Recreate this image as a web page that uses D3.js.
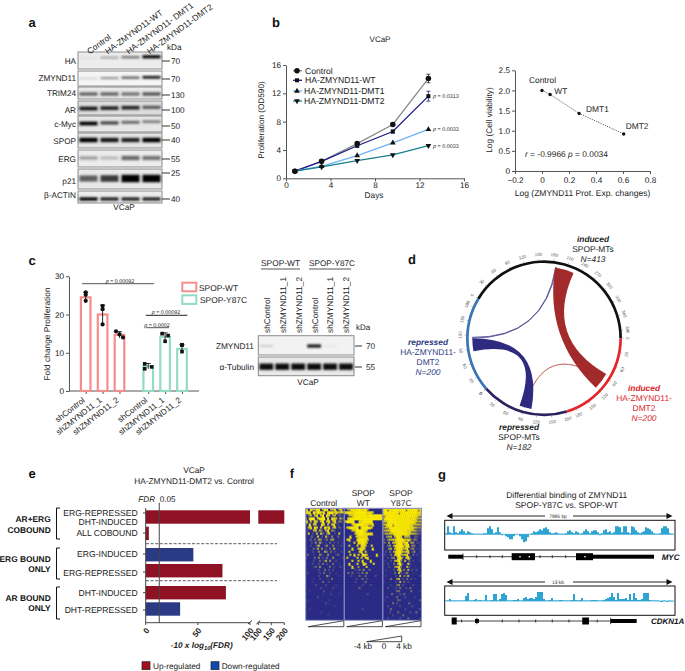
<!DOCTYPE html>
<html>

<head>
  <title>ZMYND11 figure</title>
  <script src="https://cdn.jsdelivr.net/npm/d3@7/dist/d3.min.js"></script>
  <style>
    body { margin: 0; background: white; }
    svg { display: block; }
    text { font-family: "Liberation Sans", Arial, sans-serif; fill: #222; text-rendering: geometricPrecision; }
    .axis path, .axis line { fill: none; stroke: #555; stroke-width: 1; }
    .axis text { font-size: 8.2px; fill: #222; }
  </style>
</head>

<body>
  <svg id="chart" width="685" height="671"></svg>

  <script>
    // panel a: western blot
    var lanesA = ['Control', 'HA-ZMYND11-WT', 'HA-ZMYND11- DMT1', 'HA-ZMYND11-DMT2'];
    var blotNamesA = ['HA', 'ZMYND11', 'TRIM24', 'AR', 'c-Myc', 'SPOP', 'ERG', 'p21', 'β-ACTIN'];
    var blotKdaA = ['70', '70', '130', '100', '50', '40', '55', '25', '40'];
    var blotBandsA = [
      [0.05, 0.3, 0.5, 1],
      [0.15, 0.4, 0.6, 0.9],
      [0.55, 0.55, 0.5, 0.6],
      [0.9, 0.85, 0.85, 0.6],
      [1, 0.7, 0.55, 0.45],
      [1, 0.9, 0.85, 1],
      [0.3, 0.2, 0.55, 0.5],
      [0.6, 0.75, 1, 1],
      [1, 0.9, 0.9, 0.9]
    ];

    // panel b: proliferation
    var days = [0.8, 3.2, 6.4, 9.6, 12.8];
    var growthNames = ['Control', 'HA-ZMYND11-WT', 'HA-ZMYND11-DMT1', 'HA-ZMYND11-DMT2'];
    var growthControl = [1, 2.4, 4.9, 7.6, 14.1];
    var growthWT = [1, 2.4, 4.6, 6.6, 11.6];
    var growthDMT1 = [1, 1.7, 3.2, 5.0, 6.9];
    var growthDMT2 = [1, 1.6, 2.5, 3.3, 4.6];
    var growthErrControl = [0.1, 0.2, 0.2, 0.2, 0.6];
    var growthErrWT = [0.1, 0.2, 0.2, 0.2, 0.7];
    var growthP = [null, '0.0313', '0.0033', '0.0033'];

    // panel b: correlation
    var corrNames = ['Control', 'WT', 'DMT1', 'DMT2'];
    var corrX = [0, 0.06, 0.275, 0.605];
    var corrY = [2.0, 1.9, 1.43, 0.92];

    // panel c: fold change bars
    var foldNames = ['shControl', 'shZMYND11_1', 'shZMYND11_2', 'shControl', 'shZMYND11_1', 'shZMYND11_2'];
    var foldSlots = [0, 1, 2, 3.7, 4.7, 5.7];
    var foldMeans = [24.5, 20, 14.7, 6.5, 14.2, 11];
    var foldDots = [
      [25.8, 25.2, 23.6],
      [22.2, 21.4, 17.4],
      [15.6, 14.8, 14],
      [7.1, 6.3, 5.8],
      [15, 14.5, 13],
      [12.1, 12, 10.3]
    ];
    var foldErr = [1.3, 2.5, 0.8, 0.7, 1, 1.1];
    var lanesC = ['shControl', 'shZMYND11_1', 'shZMYND11_2', 'shControl', 'shZMYND11_1', 'shZMYND11_2'];
    var bandsZmyndC = [0.15, 0, 0, 0.9, 0.05, 0];
    var bandsTubulinC = [0.95, 0.95, 0.95, 0.95, 0.95, 0.95];

    // panel d: circular plot, gene counts
    var sectorNames = ['induced SPOP-MTs', 'induced DMT2', 'repressed SPOP-MTs', 'repressed DMT2'];
    var sectorTotals = [406, 200, 182, 200];
    var sectorTickMax = [390, 180, 180, 180];
    var links = [
      { from: [0, 186, 188], to: [3, 114, 116], kind: 'thinNavy' },
      { from: [2, 90, 91], to: [1, 96, 97], kind: 'thinRed' },
      { from: [3, 85, 114], to: [2, 75, 102], kind: 'navy' },
      { from: [0, 185, 227], to: [1, 82, 120], kind: 'red' }
    ];

    // panel e: enrichment
    var enrichNames = ['ALL COBOUND', 'ERG-INDUCED', 'ERG-REPRESSED', 'DHT-INDUCED', 'DHT-REPRESSED'];
    var enrichValues = [3, 45.7, 73.6, 76.9, 33];
    var enrichUp = [true, false, true, true, false];
    var enrichBrokenValue = 200;
    var enrichFdr = 13;

    // panel f: heatmap density, 0 navy to 9 yellow
    var heatNames = ['Control', 'SPOP WT', 'SPOP Y87C'];
    var heatControl = [
      '8087689079806780680', '9880979878089978677', '0370680790870560320', '7089907899080887063',
      '8060870690780680430', '3090760087060780200', '0680870708680570310', '0200570630580430010',
      '0702060730470020700', '0003007020620400300', '0030305402304500100', '1002040520103020201',
      '0020036002400401020', '2000305040203050100', '0002004005303020020', '0300100420040001300',
      '1000304020300400002', '0000200302504002000', '0002002030200300100', '0000130400003010020',
      '0000002003020200000', '0200000203002001000', '0000002000420000100', '0000100200010300000',
      '0001000030020000000', '0000020000200001000', '0000000200000200000', '0010000002000000000',
      '0000000010002000100', '0000002000000000000', '0100000000010000000', '0000000000200000000',
      '0000000000000010000', '0010000000000000000', '0000000100000000000', '0000000000010000000',
      '0000000000000000000'
    ];
    var heatWT = [
      '0478989988960000000', '7899899999988870000', '0067899999989999998', '0089999999999999999',
      '7999900889999900000', '0000789999887780000', '0789989089998700000', '0000679999870000000',
      '0000078998888800000', '0008007888880000000', '0780008999870000000', '0000070889870000000',
      '0060007088700700000', '0000800788600080000', '0070000780700000000', '0007080708870000800',
      '0700007060780000000', '0000700708000800000', '0080007008700070000', '0000800400070000000',
      '0000020304003000000', '0030300203040000000', '0002000300300002000', '0000002003020000000',
      '0000020000300000000', '0000000002000200000', '0000000300000000000', '0000000000000000000',
      '0000000000020000000', '0000000000000000000', '0000000000000000000', '0000000000000000000',
      '0000000000000000000', '0000000002000000000', '0000000000000000000', '0000000000000000000',
      '0000000000000000000'
    ];
    var heatY87C = [
      '9979899999979999978', '8999999979999999988', '7899999999999999877', '6899999999999989866',
      '7789999999999998756', '5689979999999987665', '4678999999999887544', '4577899999998876533',
      '3556789999998765432', '2045607998076500320', '3045678999878604300', '2305067899789054021',
      '1034068999689043002', '2004507898678034011', '0203058997578024002', '0200307896578003020',
      '0020340895068300001', '0100205794060302001', '1020030793007200000', '0002004683006200100',
      '0100020682305020200', '1000003072024001000', '0100002060325000002', '0000300460203020100',
      '1000002050302000000', '0000100340200002000', '0020002030020300000', '1000000330000030001',
      '0000300020300000000', '0020000300020000100', '1000000320000000003', '0000030200000300000',
      '0020000020000020000', '0000300000020000002', '0002000300000200300', '0000020000300000000',
      '0020000020003000002'
    ];

    // panel g: binding tracks
    var trackMyc = [1, 8, 2, 1, 8, 2, 1, 3, 5, 3, 1, 3, 2, 1, 0.5, 0.5, 0.5, 0.5, 0.5, 1, 1, 6, 8, 5, 1, 2, 7, 2, -1, 0,
      -2, -3, -5, -5, -2, 0, 0, -2, -5, -8, -7, -3, 0, 1, 3, 2, 3, 5, 4, 6, 7, 5, 2, 1, 1, 2, 1, 0.5, 0.5, 0.5,
      1, 3, 4, 2, 1, 3, 2, 0.5, 1, 3, 5, 3, 1, 3, 4, 4, 2, -1, 1, 4, 5, 2, 3, 1, 2, 8, 8, 7, 2, 8,
      8, 2, 1, 8, 7, 4, 2, 1, 2, 3, 7, 6, 5, 3, 1, 0.5, 0.5, 1, 6, 8, 8, 6, 1, 0.5, 0.5];
    var trackCdkn = [0.5, 0.5, 2, 0.5, 0.5, 0.5, 0.5, 0.5, 0.5, 0.5, 5, 8, 0.5, 0.5, 1, 2, 0.5, 1, 0.5, 0.5, 6, 0.5, 0.5, 1, 7, 7, 0.5, 2, 7, 8,
      6, 0.5, 0.5, 0.5, 1, 1, 2, 0.5, 0.5, 3, 4, 2, 3, 3, 2, 4, 9, 9, 9, 2, 0.5, 0.5, 1, 3, 0.5, 0.5, 0.5, 1, 1, 0.5,
      0.5, 0.5, 0.5, 1, 7, 1, 0.5, 1, 3, 0.5, 0.5, 0.5, 0.5, 1, 1, 1, 0.5, 0.5, 0.5, 1, 2, 3, 4, 8, 4, 1, 8, 2, 2, 2,
      3, 1, 7, 1, 8, 3, 1, 1, 2, 8, 8, 8, 1, 0.5, 0.5, 0.5, 0.5, -0.5, -1, 0.5, -0.5, -1, 0.5, -0.5, 0.5];
    var mycExons = [[2318, 3128], [4554, 5145]];
    var mycUtrs = [[115, 626], [5145, 7265]];
    var mycIntronMarks = [1102, 1564, 1992, 3302, 3730, 4196];
    var mycDots = [2607, 2930, 4866];
    var mycStarts = [626];
    var cdknExons = [[379, 661], [7757, 8136]];
    var cdknUtrs = [[1695, 1921], [9362, 10831]];
    var cdknIntronMarks = [944, 3238, 4181, 5125, 6063, 7006, 8605];
    var cdknStarts = [1800, 9362];

    var svg = d3.select('#chart');

    // text helper, parts may be strings or {t, italic, lower}
    function label(x, y, parts, o) {
      o = o || {};
      var t = svg.append('text')
        .attr('x', x)
        .attr('y', y)
        .attr('dy', '0.35em')
        .attr('text-anchor', o.anchor || 'start')
        .style('font-size', (o.size || 8) + 'px')
        .style('font-weight', o.bold ? 'bold' : 'normal')
        .style('font-style', o.italic ? 'italic' : 'normal')
        .style('fill', o.fill || '#222');
      if (o.rotate) t.attr('transform', 'rotate(' + o.rotate + ' ' + x + ' ' + y + ')');
      if (typeof parts === 'string') parts = [parts];
      var wasLow = false;
      parts.forEach(function (p) {
        var s = t.append('tspan').text(typeof p === 'string' ? p : p.t);
        if (wasLow) s.attr('dy', -2);
        wasLow = false;
        if (p.italic) s.style('font-style', 'italic');
        if (p.lower) {
          s.style('font-size', '0.7em').attr('dy', 2);
          wasLow = true;
        }
      });
      return t;
    }

    var defs = svg.append('defs');
    defs.append('filter').attr('id', 'soft').attr('x', '-20%').attr('y', '-50%').attr('width', '140%').attr('height', '200%')
      .append('feGaussianBlur').attr('stdDeviation', 0.8);
    defs.append('filter').attr('id', 'heatSoft').attr('x', '0').attr('y', '0').attr('width', '100%').attr('height', '100%')
      .append('feGaussianBlur').attr('stdDeviation', 0.4);

    [['a', 32, 22], ['b', 276, 22], ['c', 32, 260], ['d', 412, 259], ['e', 32, 473], ['f', 292, 473], ['g', 442, 474]]
      .forEach(function (d) { label(d[1], d[2], d[0], { size: 13, bold: true, anchor: 'middle', fill: '#111' }); });

    // blot drawing shared by a and c
    function blotRow(xScale, top, bottom, bandY, bands, thick, tilt, bg) {
      svg.append('rect')
        .attr('x', xScale.range()[0]).attr('y', top)
        .attr('width', xScale.range()[1] - xScale.range()[0]).attr('height', bottom - top)
        .attr('fill', bg).attr('stroke', '#8c8c8c').attr('stroke-width', 1);
      var shade = d3.scaleLinear().domain([0, 1]).range([0, 1]);
      svg.append('g').attr('filter', 'url(#soft)')
        .selectAll('rect').data(bands).enter().append('rect')
        .attr('x', function (d, i) { return xScale(i) + xScale.bandwidth() * 0.07; })
        .attr('width', xScale.bandwidth() * 0.86)
        .attr('y', function (d, i) { return bandY - tilt * i - thick * (0.55 + 0.45 * d) / 2; })
        .attr('height', function (d) { return thick * (0.55 + 0.45 * d); })
        .attr('fill', '#050505')
        .attr('opacity', function (d) { return shade(d); });
    }

    // panel a
    var rowsA = [[52, 69, 58, 3.2, 0.4], [71, 86, 78.5, 3, 0.4], [87, 99, 94, 4.5, 0], [101, 115, 108.5, 4, 0.4], [116, 132, 123.5, 3.8, 0.6],
      [133, 148, 140, 4.6, 0], [150, 167, 158, 5.5, 0], [169, 189, 178.5, 7.5, 0], [191, 203, 199, 3.4, 0]];
    var labelYA = [61, 78, 93, 110, 124, 141, 159, 181, 195];
    var kdaYA = [61, 79, 95, 110, 126, 140, 159, 173, 199];
    var bgA = ['#ececec', '#f5f5f5', '#e8e8e8', '#dcdcdc', '#e6e6e6', '#e4e4e4', '#ececec', '#e8e8e8', '#ececec'];
    var laneA = d3.scaleBand().domain(d3.range(4)).range([78, 162]);
    blotBandsA.forEach(function (b, i) {
      var r = rowsA[i];
      blotRow(laneA, r[0], r[1], r[2], b, r[3], r[4], bgA[i]);
      label(76, labelYA[i], blotNamesA[i], { anchor: 'end', size: 8.2 });
      svg.append('line').attr('x1', 162).attr('x2', 170).attr('y1', kdaYA[i]).attr('y2', kdaYA[i]).attr('stroke', '#333');
      label(171, kdaYA[i], blotKdaA[i], { size: 8.2 });
    });
    lanesA.forEach(function (d, i) {
      label(laneA(i) + 11 - (i === 0 ? 1 : 4), 52, d, { size: 8.4, rotate: -36 });
    });
    label(167, 47, 'kDa', { size: 8.2 });
    label(124, 207, 'VCaP', { size: 8.2, anchor: 'middle' });

    // panel b left
    label(380, 39, 'VCaP', { size: 8, anchor: 'middle' });
    var xGrow = d3.scaleLinear().domain([0, 16]).range([286, 464]);
    var yGrow = d3.scaleLinear().domain([0, 16]).range([178.3, 65]);
    svg.append('g').attr('class', 'axis').attr('transform', 'translate(0,178.3)')
      .call(d3.axisBottom(xGrow).tickValues([0, 4, 8, 12, 16]).tickSize(3).tickSizeOuter(0).tickPadding(1));
    svg.append('g').attr('class', 'axis').attr('transform', 'translate(286,0)')
      .call(d3.axisLeft(yGrow).tickValues([0, 4, 8, 12, 16]).tickSize(3).tickSizeOuter(0).tickPadding(2));
    label(374, 195, 'Days', { size: 8.3, anchor: 'middle' });
    label(261, 120, 'Proliferation (OD590)', { size: 8.2, anchor: 'middle', rotate: -90 });

    var growthSeries = [growthControl, growthWT, growthDMT1, growthDMT2];
    var growthColors = ['#8a8a8a', '#1c1c8c', '#6fb2f2', '#16808a'];
    var growthSymbols = [d3.symbolCircle, d3.symbolSquare, d3.symbolTriangle, d3.symbolTriangle];
    var growthSizes = [24, 16, 14, 14];
    var growthTurn = [0, 0, 0, 180];
    var growLine = d3.line().x(function (d, i) { return xGrow(days[i]); }).y(function (d) { return yGrow(d); });
    growthSeries.forEach(function (s, k) {
      svg.append('path').datum(s).attr('d', growLine).attr('fill', 'none')
        .attr('stroke', growthColors[k]).attr('stroke-width', 1.3);
    });
    [[growthControl, growthErrControl, '#222'], [growthWT, growthErrWT, '#1c1c8c']].forEach(function (e) {
      days.forEach(function (d, i) {
        svg.append('path')
          .attr('d', 'M' + (xGrow(d) - 2) + ',' + yGrow(e[0][i] + e[1][i]) + 'h4M' + xGrow(d) + ',' + yGrow(e[0][i] + e[1][i]) +
            'V' + yGrow(e[0][i] - e[1][i]) + 'M' + (xGrow(d) - 2) + ',' + yGrow(e[0][i] - e[1][i]) + 'h4')
          .attr('stroke', e[2]).attr('stroke-width', 0.8).attr('fill', 'none');
      });
    });
    growthSeries.forEach(function (s, k) {
      svg.append('g').selectAll('path').data(s).enter().append('path')
        .attr('d', d3.symbol().type(growthSymbols[k]).size(growthSizes[k]))
        .attr('transform', function (d, i) {
          return 'translate(' + xGrow(days[i]) + ',' + yGrow(d) + ') rotate(' + growthTurn[k] + ')';
        })
        .attr('fill', '#111');
    });
    var legendY = [70.7, 80.3, 91, 101];
    var legendX = [305, 305, 304, 304];
    growthNames.forEach(function (n, k) {
      svg.append('line').attr('x1', 293).attr('x2', 302).attr('y1', legendY[k]).attr('y2', legendY[k])
        .attr('stroke', growthColors[k]).attr('stroke-width', 1.3);
      svg.append('path').attr('d', d3.symbol().type(growthSymbols[k]).size(growthSizes[k]))
        .attr('transform', 'translate(297,' + legendY[k] + ') rotate(' + growthTurn[k] + ')').attr('fill', '#111');
      label(legendX[k], legendY[k], n, { size: 8.6 });
      if (growthP[k]) {
        label(433, yGrow(growthSeries[k][4]), [{ t: 'p', italic: true }, ' = ' + growthP[k]], { size: 5.4 });
      }
    });

    // panel b right
    var xCorr = d3.scaleLinear().domain([-0.2, 0.8]).range([515, 650]);
    var yCorr = d3.scaleLinear().domain([0, 2.5]).range([171, 70.3]);
    var oneDec = function (d) { return d === 0 ? '0' : d3.format('.1f')(d); };
    svg.append('g').attr('class', 'axis').attr('transform', 'translate(0,171)')
      .call(d3.axisBottom(xCorr).tickValues([-0.2, 0, 0.2, 0.4, 0.6, 0.8]).tickFormat(oneDec).tickSize(3).tickSizeOuter(0).tickPadding(3));
    svg.append('g').attr('class', 'axis').attr('transform', 'translate(515,0)')
      .call(d3.axisLeft(yCorr).tickValues([0, 0.5, 1, 1.5, 2, 2.5]).tickFormat(oneDec).tickSize(3).tickSizeOuter(0).tickPadding(2));
    label(582.5, 193.3, 'Log (ZMYND11 Prot. Exp. changes)', { size: 8.5, anchor: 'middle' });
    label(489, 120, 'Log (Cell viability)', { size: 8.3, anchor: 'middle', rotate: -90 });
    svg.append('path').datum(corrY)
      .attr('d', d3.line().x(function (d, i) { return xCorr(corrX[i]); }).y(function (d) { return yCorr(d); }))
      .attr('fill', 'none').attr('stroke', '#333').attr('stroke-width', 0.8).attr('stroke-dasharray', '1.2 1.2');
    svg.append('g').selectAll('circle').data(corrY).enter().append('circle')
      .attr('cx', function (d, i) { return xCorr(corrX[i]); })
      .attr('cy', function (d) { return yCorr(d); })
      .attr('r', 1.7).attr('fill', '#111');
    var corrLabelX = [529, 554.3, 586, 625.7];
    var corrLabelY = [80, 91, 108.7, 126];
    corrNames.forEach(function (n, i) {
      label(corrLabelX[i], corrLabelY[i], n, { size: 8.4 });
    });
    label(525, 154, [{ t: 'r', italic: true }, ' = -0.9966   ', { t: 'p', italic: true }, ' = 0.0034'], { size: 8.4 });

    // panel c
    var xFold = d3.scaleLinear().domain([0, 5.7]).range([85.7, 182]);
    var yFold = d3.scaleLinear().domain([0, 30]).range([391, 276.3]);
    svg.append('g').attr('class', 'axis').attr('transform', 'translate(69,0)')
      .call(d3.axisLeft(yFold).tickValues([0, 10, 20, 30]).tickSize(3).tickSizeOuter(0).tickPadding(2));
    var foldAxis = svg.append('g').attr('class', 'axis').attr('transform', 'translate(0,391)')
      .call(d3.axisBottom(xFold).tickValues(foldSlots).tickFormat('').tickSize(3).tickSizeOuter(0));
    foldAxis.select('.domain').attr('d', 'M69,0H199');
    foldNames.forEach(function (n, i) {
      svg.append('text').attr('transform', 'translate(' + (xFold(foldSlots[i]) - 2) + ',399) rotate(-38)')
        .attr('text-anchor', 'end').attr('dy', '0.35em').style('font-size', '8.2px').text(n);
    });
    label(47, 334, 'Fold change Proliferation', { size: 8.4, anchor: 'middle', rotate: -90 });
    var foldColor = function (i) { return i < 3 ? '#f48e8e' : '#93dcc0'; };
    svg.append('g').selectAll('rect').data(foldMeans).enter().append('rect')
      .attr('x', function (d, i) { return xFold(foldSlots[i]) - 4.8; })
      .attr('width', 9.6)
      .attr('y', function (d) { return yFold(d); })
      .attr('height', function (d) { return yFold(0) - yFold(d); })
      .attr('fill', 'white')
      .attr('stroke', function (d, i) { return foldColor(i); })
      .attr('stroke-width', 2.2);
    var dotShift = [[0, 0, 0], [0, 0, 0], [-3.5, 0, 3.5], [-3.5, 3.5, -3.5], [-3, 3, 0], [0, 0, 0]];
    foldDots.forEach(function (vals, i) {
      var cx = xFold(foldSlots[i]);
      svg.append('path')
        .attr('d', 'M' + (cx - 2.5) + ',' + yFold(foldMeans[i] + foldErr[i]) + 'h5M' + cx + ',' + yFold(foldMeans[i] + foldErr[i]) +
          'V' + yFold(foldMeans[i] - foldErr[i]))
        .attr('stroke', '#111').attr('stroke-width', 0.9).attr('fill', 'none');
      svg.append('g').selectAll('path').data(vals).enter().append('path')
        .attr('d', d3.symbol().type(i < 3 ? d3.symbolCircle : d3.symbolSquare).size(i < 3 ? 14 : 13))
        .attr('transform', function (d, j) { return 'translate(' + (cx + dotShift[i][j]) + ',' + yFold(d) + ')'; })
        .attr('fill', '#111');
    });
    [[82, 154, 283.7, 120, '#555'], [145.7, 187.3, 315.3, 166, '#222'], [145.7, 169, 327.7, 157, '#555']].forEach(function (d, i) {
      svg.append('line').attr('x1', d[0]).attr('x2', d[1]).attr('y1', d[2]).attr('y2', d[2]).attr('stroke', d[4]);
      label(d[3], d[2] - 3, [{ t: 'p', italic: true }, i === 2 ? ' = 0.0002' : ' = 0.00092'], { size: 5.4, anchor: 'middle' });
    });
    [[282.7, '#f48e8e', 'SPOP-WT', 199], [295.3, '#93dcc0', 'SPOP-Y87C', 200]].forEach(function (d) {
      svg.append('rect').attr('x', 182.3).attr('y', d[0]).attr('width', 14).attr('height', 8.6)
        .attr('fill', 'white').attr('stroke', d[1]).attr('stroke-width', 2);
      label(d[3], d[0] + 5, d[2], { size: 8.4 });
    });

    // panel c blot
    var laneC = d3.scaleBand().domain(d3.range(6)).range([258.3, 354]);
    blotRow(laneC, 335.7, 355, 346, bandsZmyndC, 3.4, 0, '#f2f2f2');
    blotRow(laneC, 357, 375.7, 366.7, bandsTubulinC, 6.5, 0, '#e8e8e8');
    label(254, 346, 'ZMYND11', { size: 8.3, anchor: 'end' });
    label(254, 367, 'α-Tubulin', { size: 8.3, anchor: 'end' });
    svg.append('line').attr('x1', 355).attr('x2', 362).attr('y1', 346).attr('y2', 346).attr('stroke', '#333');
    svg.append('line').attr('x1', 355).attr('x2', 362).attr('y1', 367).attr('y2', 367).attr('stroke', '#333');
    label(366, 346, '70', { size: 8.2 });
    label(366, 367, '55', { size: 8.2 });
    label(356, 327, 'kDa', { size: 8 });
    label(308, 382, 'VCaP', { size: 8.2, anchor: 'middle' });
    lanesC.forEach(function (n, i) {
      label(laneC(i) + laneC.bandwidth() / 2 + 0.5, 333, n, { size: 8.3, rotate: -90 });
    });
    svg.append('line').attr('x1', 261).attr('x2', 300).attr('y1', 269).attr('y2', 269).attr('stroke', '#555');
    svg.append('line').attr('x1', 309).attr('x2', 351).attr('y1', 269).attr('y2', 269).attr('stroke', '#555');
    label(280.5, 263, 'SPOP-WT', { size: 8.4, anchor: 'middle' });
    label(332, 263, 'SPOP-Y87C', { size: 8.2, anchor: 'middle' });

    // panel d
    var cxD = 544, cyD = 338.3;
    var sectorStart = [-58.9, 90, 162.8, 229];
    var sectorEnd = [90, 162.8, 229, 301.1];
    var sectorColors = ['#101010', '#e4252b', '#29235f', '#3b74b2'];
    var sectorScales = sectorTotals.map(function (t, i) {
      return d3.scaleLinear().domain([0, t]).range([sectorStart[i], sectorEnd[i]].map(function (a) { return a * Math.PI / 180; }));
    });
    var chord = svg.append('g').attr('transform', 'translate(' + cxD + ',' + cyD + ')');
    var arcD = d3.arc().innerRadius(75.3).outerRadius(78);
    sectorNames.forEach(function (n, i) {
      chord.append('path').attr('fill', sectorColors[i])
        .attr('d', arcD({ startAngle: sectorStart[i] * Math.PI / 180, endAngle: sectorEnd[i] * Math.PI / 180 }));
      d3.range(0, sectorTickMax[i] + 1, 30).forEach(function (v) {
        var a = i === 2 ? sectorScales[2](182 - v) : sectorScales[i](v);
        var deg = a * 180 / Math.PI;
        var flip = deg > 90 && deg < 270;
        chord.append('line').attr('x1', 0).attr('x2', 0).attr('y1', -78).attr('y2', -79.5)
          .attr('stroke', '#666').attr('stroke-width', 0.4).attr('transform', 'rotate(' + deg + ')');
        chord.append('text')
          .attr('transform', 'rotate(' + deg + ') translate(0,-84)' + (flip ? ' rotate(180)' : ''))
          .attr('text-anchor', 'middle').attr('dy', '0.35em')
          .style('font-size', '4.4px').style('fill', '#555').text(v);
      });
    });
    var ribbon = d3.ribbon().radius(71.7);
    var linkStyle = {
      thinNavy: ['none', '#2e2a80', 0.7],
      thinRed: ['none', '#c0504d', 0.6],
      navy: ['#2e2a80', 'none', 0],
      red: ['#a32a2a', 'none', 0]
    };
    function end(e) {
      var s = sectorScales[e[0]];
      return { startAngle: s(e[1]), endAngle: s(e[2]) };
    }
    links.forEach(function (l) {
      chord.append('path').attr('d', ribbon({ source: end(l.from), target: end(l.to) }))
        .attr('fill', linkStyle[l.kind][0])
        .attr('stroke', linkStyle[l.kind][1])
        .attr('stroke-width', linkStyle[l.kind][2]);
    });
    var inkNavy = '#2b3a80', inkRed = '#d8232a';
    label(593, 238.7, 'induced', { size: 8.4, bold: true, italic: true, anchor: 'middle' });
    label(593, 249, 'SPOP-MTs', { size: 8.4, anchor: 'middle' });
    label(593, 259, 'N=413', { size: 8.4, italic: true, anchor: 'middle' });
    label(428, 342, 'repressed', { size: 8.4, bold: true, italic: true, anchor: 'middle', fill: inkNavy });
    label(428, 352, 'HA-ZMYND11-', { size: 8.4, anchor: 'middle', fill: inkNavy });
    label(428, 362, 'DMT2', { size: 8.4, anchor: 'middle', fill: inkNavy });
    label(428, 372, 'N=200', { size: 8.4, italic: true, anchor: 'middle', fill: inkNavy });
    label(644, 388, 'induced', { size: 8.4, bold: true, italic: true, anchor: 'middle', fill: inkRed });
    label(644, 398, 'HA-ZMYND11-', { size: 8.4, anchor: 'middle', fill: inkRed });
    label(644, 408, 'DMT2', { size: 8.4, anchor: 'middle', fill: inkRed });
    label(644, 418, 'N=200', { size: 8.4, italic: true, anchor: 'middle', fill: inkRed });
    label(519, 427, 'repressed', { size: 8.4, bold: true, italic: true, anchor: 'middle' });
    label(519, 437, 'SPOP-MTs', { size: 8.4, anchor: 'middle' });
    label(519, 447, 'N=182', { size: 8.4, italic: true, anchor: 'middle' });

    // panel e
    var xLow = d3.scaleLinear().domain([0, 100]).range([145.7, 250]);
    var xHigh = d3.scaleLinear().domain([100, 200]).range([258.3, 284.3]);
    var upRed = '#8f1224', downBlue = '#2b3a85';
    var enrichTop = [526.7, 548, 564, 586, 602.3];
    var enrichH = 13.4;
    svg.append('g').selectAll('rect').data(enrichValues).enter().append('rect')
      .attr('x', xLow(0))
      .attr('y', function (d, i) { return enrichTop[i]; })
      .attr('width', function (d) { return xLow(d) - xLow(0); })
      .attr('height', enrichH)
      .attr('fill', function (d, i) { return enrichUp[i] ? upRed : downBlue; });
    svg.append('rect').attr('x', xLow(0)).attr('y', 510.3).attr('width', xLow(100) - xLow(0)).attr('height', enrichH).attr('fill', upRed);
    svg.append('rect').attr('x', xHigh(100)).attr('y', 510.3).attr('width', xHigh(enrichBrokenValue) - xHigh(100)).attr('height', enrichH).attr('fill', upRed);
    svg.append('line').attr('x1', xLow(0)).attr('x2', xLow(0)).attr('y1', 508).attr('y2', 622.7).attr('stroke', '#444');
    svg.append('line').attr('x1', xLow(enrichFdr)).attr('x2', xLow(enrichFdr)).attr('y1', 502.7).attr('y2', 622.7).attr('stroke', '#444');
    svg.append('line').attr('x1', xLow(0)).attr('x2', xLow(100)).attr('y1', 622.7).attr('y2', 622.7).attr('stroke', '#444');
    svg.append('line').attr('x1', xHigh(100)).attr('x2', xHigh(200)).attr('y1', 622.7).attr('y2', 622.7).attr('stroke', '#444');
    [543.7, 580.7].forEach(function (y) {
      svg.append('line').attr('x1', 146).attr('x2', 277).attr('y1', y).attr('y2', y)
        .attr('stroke', '#333').attr('stroke-dasharray', '3 1.6').attr('stroke-width', 0.8);
    });
    [[xLow, 0], [xLow, 50], [xLow, 100], [xHigh, 100], [xHigh, 150], [xHigh, 200]].forEach(function (d) {
      var px = d[0](d[1]);
      svg.append('line').attr('x1', px).attr('x2', px).attr('y1', 622.7).attr('y2', 625).attr('stroke', '#444');
      svg.append('text').attr('transform', 'translate(' + (px + 2) + ',629) rotate(-50)')
        .attr('text-anchor', 'end').attr('dy', '0.35em')
        .style('font-size', '8.2px').style('font-weight', 'bold').text(d[1]);
    });
    [250, 258.3].forEach(function (x) {
      svg.append('line').attr('x1', x - 2).attr('x2', x + 2).attr('y1', 624).attr('y2', 620.5).attr('stroke', '#333');
    });
    [513, 533, 554, 572, 592.7, 610].forEach(function (y) {
      svg.append('line').attr('x1', 143).attr('x2', 145.7).attr('y1', y).attr('y2', y).attr('stroke', '#444');
    });
    var enrichLabelY = [533, 554, 572.7, 592.7, 610];
    label(137.7, 512.7, 'ERG-REPRESSED', { size: 8.6, anchor: 'end' });
    label(137.7, 521.7, 'DHT-INDUCED', { size: 8.6, anchor: 'end' });
    enrichNames.forEach(function (n, i) { label(137.7, enrichLabelY[i], n, { size: 8.6, anchor: 'end' }); });
    [[508, 539], [548, 579], [587, 619]].forEach(function (b) {
      svg.append('path').attr('d', 'M60,' + b[0] + 'H56.5V' + b[1] + 'H60')
        .attr('fill', 'none').attr('stroke', '#111').attr('stroke-width', 1);
    });
    [['AR+ERG', 519], ['COBOUND', 530], ['ERG BOUND', 559], ['ONLY', 569], ['AR BOUND', 598], ['ONLY', 608]].forEach(function (d) {
      label(50.7, d[1], d[0], { size: 8.4, bold: true, anchor: 'end', fill: '#111' });
    });
    label(194, 470, 'VCaP', { size: 8.3, anchor: 'middle' });
    label(194, 480.6, 'HA-ZMYND11-DMT2 vs. Control', { size: 8.3, anchor: 'middle' });
    label(146.7, 499, 'FDR', { size: 8.2, italic: true, anchor: 'middle' });
    label(167.7, 499, '0.05', { size: 8.2, anchor: 'middle' });
    label(201.7, 645, ['-10 x log', { t: '10', lower: true }, '(FDR)'], { size: 8.2, bold: true, italic: true, anchor: 'middle' });
    svg.append('rect').attr('x', 142).attr('y', 661.7).attr('width', 8).attr('height', 8).attr('fill', '#a30f1e').attr('stroke', '#222').attr('stroke-width', 0.7);
    svg.append('rect').attr('x', 211).attr('y', 661.7).attr('width', 8).attr('height', 8).attr('fill', '#1246b0').attr('stroke', '#222').attr('stroke-width', 0.7);
    label(153, 666, 'Up-regulated', { size: 8.2 });
    label(221.7, 666, 'Down-regulated', { size: 8.2 });

    // panel f
    var heatPanels = [heatControl, heatWT, heatY87C];
    var heatLeft = d3.scaleBand().domain(d3.range(3)).range([305.7, 421.5]);
    var heatCol = d3.scaleBand().domain(d3.range(19)).range([0, heatLeft.bandwidth()]);
    var heatRow = d3.scaleBand().domain(d3.range(37)).range([508.3, 620.3]);
    var heatColor = d3.scaleLinear().domain([0, 2, 5, 9]).range(['#2a2c85', '#4a4a80', '#b3a63a', '#f9e900']);
    heatPanels.forEach(function (rows, p) {
      var clipId = 'heatClip' + p;
      defs.append('clipPath').attr('id', clipId).append('rect')
        .attr('x', heatLeft(p)).attr('y', 508.3).attr('width', heatLeft.bandwidth()).attr('height', 112);
      var clipped = svg.append('g').attr('clip-path', 'url(#' + clipId + ')');
      clipped.append('rect').attr('x', heatLeft(p)).attr('y', 508.3).attr('width', heatLeft.bandwidth()).attr('height', 112)
        .attr('fill', heatColor(0));
      var g = clipped.append('g').attr('transform', 'translate(' + heatLeft(p) + ',0)').attr('filter', 'url(#heatSoft)');
      rows.forEach(function (row, r) {
        // odd rows sit half a column over so the specks do not line up in a grid
        var shift = r % 2 ? heatCol.bandwidth() / 2 : 0;
        g.selectAll(null).data(row.split('')).enter().append('rect')
          .attr('x', function (d, c) { return heatCol(c) - shift; })
          .attr('y', heatRow(r))
          .attr('width', heatCol.bandwidth() + 0.5)
          .attr('height', function (d) { return +d >= 8 ? heatRow.bandwidth() + 0.5 : heatRow.bandwidth() * 0.7; })
          .attr('fill', function (d) { return heatColor(+d); });
      });
      svg.append('rect').attr('x', heatLeft(p)).attr('y', 508.3).attr('width', heatLeft.bandwidth()).attr('height', 112)
        .attr('fill', 'none').attr('stroke', '#8b8fc4').attr('stroke-width', 1);
      var x0 = heatLeft(p) + 2.5, x1 = heatLeft(p) + heatLeft.bandwidth() - 0.5;
      svg.append('path').attr('d', 'M' + x0 + ',626.7L' + x1 + ',620.7V626.7Z')
        .attr('fill', 'white').attr('stroke', '#222').attr('stroke-width', 0.8);
    });
    label(323.7, 503, 'Control', { size: 8.4, anchor: 'middle' });
    label(363.3, 493, 'SPOP', { size: 8.4, anchor: 'middle' });
    label(363.3, 503, 'WT', { size: 8.4, anchor: 'middle' });
    label(401, 493, 'SPOP', { size: 8.4, anchor: 'middle' });
    label(401, 503, 'Y87C', { size: 8.4, anchor: 'middle' });
    svg.append('path').attr('d', 'M366.7,641.7L401.7,636V641.7Z').attr('fill', 'white').attr('stroke', '#222').attr('stroke-width', 0.8);
    label(363, 646, '-4 kb', { size: 8.2, anchor: 'middle' });
    label(384, 646, '0', { size: 8.2, anchor: 'middle' });
    label(404, 646, '4 kb', { size: 8.2, anchor: 'middle' });

    // panel g
    label(566.7, 495, 'Differential binding of ZMYND11', { size: 8.5, anchor: 'middle' });
    label(566.7, 505, 'SPOP-Y87C vs. SPOP-WT', { size: 8.5, anchor: 'middle' });
    var binX = d3.scaleLinear().domain([0, 115]).range([445, 675]);
    var trackY = d3.scaleLinear().domain([-8, 8]).range([8, -8]);
    var trackArea = d3.area()
      .x(function (d, i) { return binX(i); })
      .y0(0)
      .y1(function (d) { return trackY(d); })
      .curve(d3.curveStepAfter);
    function track(values, top, bottom, base, arrowY, sizeLabel) {
      svg.append('path').datum(values).attr('d', trackArea).attr('transform', 'translate(0,' + base + ')').attr('fill', '#2ea4d2');
      svg.append('line').attr('x1', 446).attr('x2', 674).attr('y1', base).attr('y2', base).attr('stroke', '#2ea4d2').attr('stroke-width', 0.8);
      svg.append('rect').attr('x', 444.7).attr('y', top).attr('width', 230.3).attr('height', bottom - top)
        .attr('fill', 'none').attr('stroke', '#111').attr('stroke-width', 1);
      svg.append('line').attr('x1', 450).attr('x2', 545).attr('y1', arrowY).attr('y2', arrowY).attr('stroke', '#222');
      svg.append('line').attr('x1', 573).attr('x2', 669).attr('y1', arrowY).attr('y2', arrowY).attr('stroke', '#222');
      svg.append('path').attr('d', 'M446.5,' + arrowY + 'l6,-3v6Z').attr('fill', '#111');
      svg.append('path').attr('d', 'M672.5,' + arrowY + 'l-6,-3v6Z').attr('fill', '#111');
      label(558, arrowY, sizeLabel, { size: 4.9, anchor: 'middle' });
    }
    track(trackMyc, 520.3, 550, 534.3, 516, '7995 bp');
    track(trackCdkn, 586, 615.3, 601, 582, '13 kb');

    function gene(span, y, lineFrom, lineTo, exons, utrs, marks, dots, starts) {
      var bp = d3.scaleLinear().domain([0, span]).range([445, 675]);
      svg.append('line').attr('x1', bp(lineFrom)).attr('x2', bp(lineTo)).attr('y1', y).attr('y2', y).attr('stroke', '#111').attr('stroke-width', 0.8);
      marks.forEach(function (m) {
        svg.append('line').attr('x1', bp(m)).attr('x2', bp(m)).attr('y1', y - 1.5).attr('y2', y + 1.5).attr('stroke', '#111').attr('stroke-width', 0.8);
      });
      starts.forEach(function (m) {
        svg.append('line').attr('x1', bp(m)).attr('x2', bp(m)).attr('y1', y - 3.2).attr('y2', y + 3.2).attr('stroke', '#111').attr('stroke-width', 0.8);
      });
      utrs.forEach(function (u) {
        svg.append('rect').attr('x', bp(u[0])).attr('y', y - 2).attr('width', bp(u[1]) - bp(u[0])).attr('height', 4).attr('fill', '#000');
      });
      exons.forEach(function (e) {
        svg.append('rect').attr('x', bp(e[0])).attr('y', y - 3.5).attr('width', bp(e[1]) - bp(e[0])).attr('height', 7).attr('fill', '#000');
      });
      dots.forEach(function (d) {
        svg.append('rect').attr('x', bp(d) - 0.7).attr('y', y - 0.7).attr('width', 1.4).attr('height', 1.4).attr('fill', 'white');
      });
    }
    gene(7995, 556.7, 115, 7265, mycExons, mycUtrs, mycIntronMarks, mycDots, mycStarts);
    gene(13000, 621, 379, 10831, cdknExons, cdknUtrs, cdknIntronMarks, [], cdknStarts);
    label(661.7, 557, 'MYC', { size: 8, bold: true, italic: true, fill: '#111' });
    label(651, 621, 'CDKN1A', { size: 8, bold: true, italic: true, fill: '#111' });
  </script>
</body>

</html>
